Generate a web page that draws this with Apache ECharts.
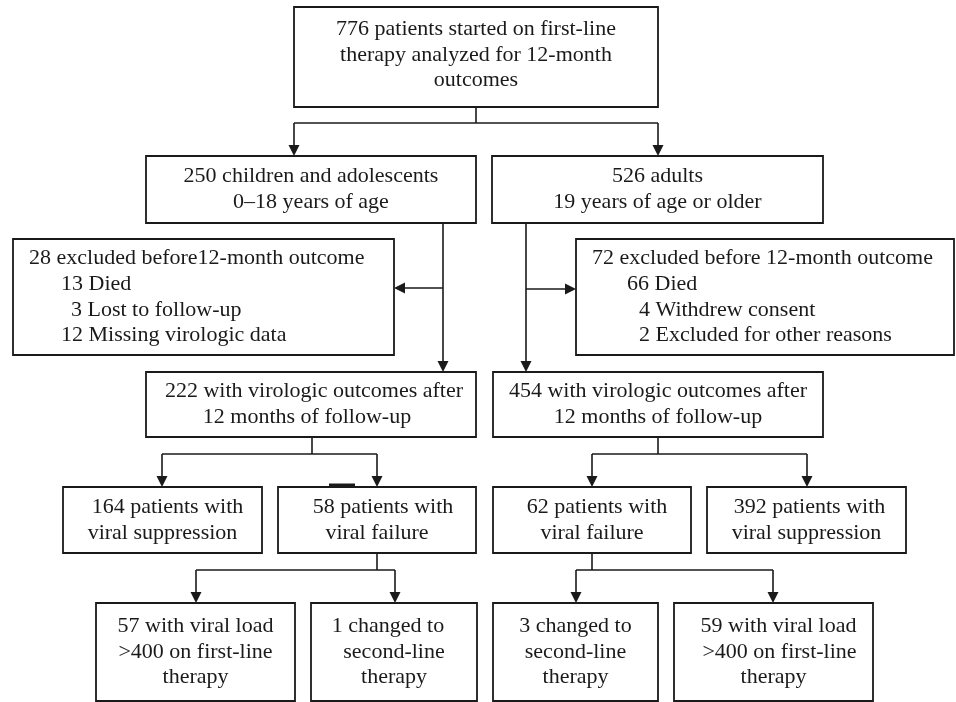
<!DOCTYPE html>
<html>
<head>
<meta charset="utf-8">
<script src="https://cdn.jsdelivr.net/npm/echarts@6/dist/echarts.min.js"></script>
<style>
html,body{margin:0;padding:0;background:#ffffff;}
#main{width:956px;height:702px;}
</style>
</head>
<body>
<div id="main"></div>
<script>
// ---------- content: text of each box ----------
const rootText = ["776 patients started on first-line", "therapy analyzed for 12-month", "outcomes"];
const childrenText = ["250 children and adolescents", "0\u201318 years of age"];
const adultsText = ["526 adults", "19 years of age or older"];
const exclChildrenText = ["28 excluded before12-month outcome", "13 Died", "3 Lost to follow-up", "12 Missing virologic data"];
const exclAdultsText = ["72 excluded before 12-month outcome", "66 Died", "4 Withdrew consent", "2 Excluded for other reasons"];
const viroChildrenText = ["222 with virologic outcomes after", "12 months of follow-up"];
const viroAdultsText = ["454 with virologic outcomes after", "12 months of follow-up"];
const suppChildrenText = ["164 patients with", "viral suppression"];
const failChildrenText = ["58 patients with", "viral failure"];
const failAdultsText = ["62 patients with", "viral failure"];
const suppAdultsText = ["392 patients with", "viral suppression"];
const vlChildrenText = ["57 with viral load", ">400 on first-line", "therapy"];
const switchChildrenText = ["1 changed to", "second-line", "therapy"];
const switchAdultsText = ["3 changed to", "second-line", "therapy"];
const vlAdultsText = ["59 with viral load", ">400 on first-line", "therapy"];

const boxTexts = [rootText, childrenText, adultsText, exclChildrenText, exclAdultsText,
  viroChildrenText, viroAdultsText, suppChildrenText, failChildrenText, failAdultsText,
  suppAdultsText, vlChildrenText, switchChildrenText, switchAdultsText, vlAdultsText];

// ---------- layout (page pixels) ----------
const boxRects = [
  [294, 7, 658, 107],
  [146, 156, 476, 223],
  [492, 156, 823, 223],
  [13, 239, 394, 355],
  [576, 239, 954, 355],
  [146, 372, 476, 437],
  [493, 372, 823, 437],
  [63, 487, 262, 553],
  [278, 487, 476, 553],
  [493, 487, 691, 553],
  [707, 487, 906, 553],
  [96, 603, 295, 701],
  [311, 603, 477, 701],
  [493, 603, 658, 701],
  [674, 603, 873, 701]
];
// left-aligned boxes: x position of each line
const lineIndents = {3: [29, 61, 71, 61], 4: [592, 627, 639, 639]};
// small horizontal nudges of centred lines, as in the reference
const lineShifts = {5: [3, -4], 7: [5, 0], 8: [6, 0], 9: [5, 0], 10: [3, 0], 12: [-6, 0, 0], 14: [5, 6, 0]};
const boxTextDy = {0: -2};

// connector segments [x0, y0, x1, y1, arrowAtEnd]
const connectorSegs = [
  [476, 107, 476, 123, 0], [294, 123, 658, 123, 0], [294, 123, 294, 156, 1], [658, 123, 658, 156, 1],
  [443, 223, 443, 372, 1], [443, 288, 394, 288, 1],
  [526, 223, 526, 372, 1], [526, 289, 576, 289, 1],
  [312, 437, 312, 454, 0], [162, 454, 377, 454, 0], [162, 454, 162, 487, 1], [377, 454, 377, 487, 1],
  [658, 437, 658, 454, 0], [592, 454, 807, 454, 0], [592, 454, 592, 487, 1], [807, 454, 807, 487, 1],
  [377, 553, 377, 570, 0], [196, 570, 395, 570, 0], [196, 570, 196, 603, 1], [395, 570, 395, 603, 1],
  [592, 553, 592, 570, 0], [576, 570, 773, 570, 0], [576, 570, 576, 603, 1], [773, 570, 773, 603, 1]
];
const markSegs = [[329, 485, 355, 485]];

// ---------- style ----------
const INK = '#1a1a1a';
const FONT = '22px "Liberation Serif", "Times New Roman", serif';
const LINE_H = 25.7;

const chart = echarts.init(document.getElementById('main'), null, {renderer: 'canvas'});

function renderBox(params, api) {
  const p0 = api.coord([api.value(0), api.value(1)]);
  const p1 = api.coord([api.value(2), api.value(3)]);
  const idx = params.dataIndex;
  const lines = boxTexts[idx];
  const children = [{
    type: 'rect',
    shape: {x: p0[0], y: p0[1], width: p1[0] - p0[0], height: p1[1] - p0[1]},
    style: {fill: '#ffffff', stroke: INK, lineWidth: 1.8}
  }];
  const cy = (p0[1] + p1[1]) / 2 + (boxTextDy[idx] || 0);
  const cx = (p0[0] + p1[0]) / 2;
  const n = lines.length;
  lines.forEach((t, k) => {
    const y = cy + (k - (n - 1) / 2) * LINE_H;
    const indent = lineIndents[idx];
    const shift = lineShifts[idx] ? lineShifts[idx][k] : 0;
    const x = indent ? api.coord([indent[k], 0])[0] : cx + shift;
    children.push({
      type: 'text',
      style: {text: t, x: x, y: y, fill: INK, font: FONT,
        align: indent ? 'left' : 'center', verticalAlign: 'middle'}
    });
  });
  return {type: 'group', children: children};
}

function renderSeg(params, api) {
  const a = api.coord([api.value(0), api.value(1)]);
  const b = api.coord([api.value(2), api.value(3)]);
  const arrow = api.value(4);
  const children = [];
  let end = b.slice();
  if (arrow) {
    const dx = b[0] - a[0], dy = b[1] - a[1];
    const len = Math.sqrt(dx * dx + dy * dy);
    const ux = dx / len, uy = dy / len;
    const L = 11, W = 5.5;
    const base = [b[0] - ux * L, b[1] - uy * L];
    end = base;
    children.push({
      type: 'polygon',
      shape: {points: [b, [base[0] - uy * W, base[1] + ux * W], [base[0] + uy * W, base[1] - ux * W]]},
      style: {fill: INK}
    });
  }
  children.unshift({
    type: 'line',
    shape: {x1: a[0], y1: a[1], x2: end[0], y2: end[1]},
    style: {stroke: INK, lineWidth: 1.6}
  });
  return {type: 'group', children: children};
}

function renderMark(params, api) {
  const a = api.coord([api.value(0), api.value(1)]);
  const b = api.coord([api.value(2), api.value(3)]);
  return {type: 'line', shape: {x1: a[0], y1: a[1], x2: b[0], y2: b[1]}, style: {stroke: INK, lineWidth: 3}};
}

chart.setOption({
  animation: false,
  backgroundColor: '#ffffff',
  grid: {left: 0, right: 0, top: 0, bottom: 0},
  xAxis: {type: 'value', min: 0, max: 956, show: false},
  yAxis: {type: 'value', min: 0, max: 702, inverse: true, show: false},
  series: [
    {type: 'custom', renderItem: renderSeg, data: connectorSegs, clip: false, silent: true,
      encode: {x: [0, 2], y: [1, 3]}, z: 1},
    {type: 'custom', renderItem: renderBox, data: boxRects, clip: false, silent: true,
      encode: {x: [0, 2], y: [1, 3]}, z: 2},
    {type: 'custom', renderItem: renderMark, data: markSegs, clip: false, silent: true,
      encode: {x: [0, 2], y: [1, 3]}, z: 3}
  ]
});
</script>
</body>
</html>
